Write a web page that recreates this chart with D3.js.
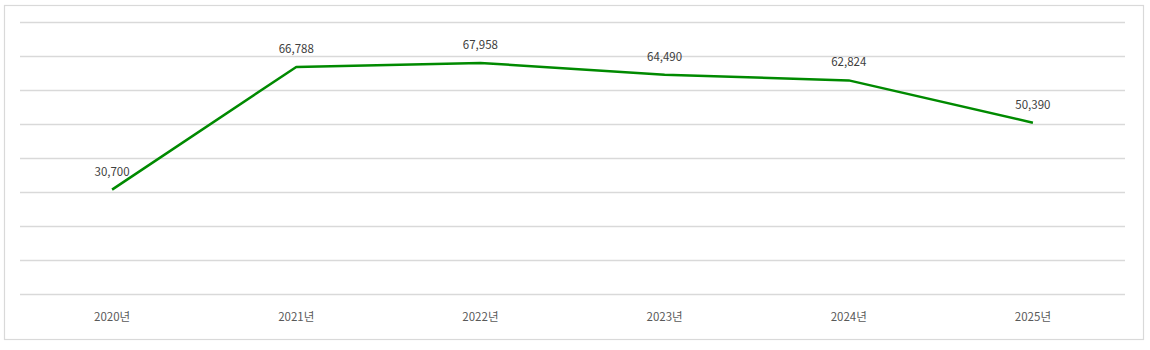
<!DOCTYPE html>
<html>
<head>
<meta charset="utf-8">
<script src="https://cdn.jsdelivr.net/npm/d3@7"></script>
<style>
  html, body { margin: 0; padding: 0; background: #fff; }
  svg { display: block; }
  text { font-family: "Noto Sans CJK KR", "Noto Sans", sans-serif; }
</style>
</head>
<body>
<svg id="chart" width="1150" height="350"></svg>
<script>
// Yearly totals
const years = ["2020년", "2021년", "2022년", "2023년", "2024년", "2025년"];
const values = [30700, 66788, 67958, 64490, 62824, 50390];
const yTicks = [0, 10000, 20000, 30000, 40000, 50000, 60000, 70000, 80000];

const svg = d3.select("#chart");
const plot = { left: 20, right: 1125, top: 22, bottom: 294 };

// chart frame
svg.append("rect")
  .attr("x", 4.5).attr("y", 5.5)
  .attr("width", 1139).attr("height", 334)
  .attr("fill", "#fff")
  .attr("stroke", "#d9d9d9")
  .attr("stroke-width", 1.2);

const x = d3.scaleBand()
  .domain(years)
  .range([plot.left, plot.right]);

const y = d3.scaleLinear()
  .domain([0, 80000])
  .range([plot.bottom, plot.top]);

// horizontal gridlines
svg.append("g")
  .selectAll("line")
  .data(yTicks)
  .join("line")
  .attr("x1", plot.left).attr("x2", plot.right)
  .attr("y1", d => Math.round(y(d)) + 0.5)
  .attr("y2", d => Math.round(y(d)) + 0.5)
  .attr("stroke", "#d9d9d9")
  .attr("stroke-width", 1.3);

// category axis labels
const xAxis = d3.axisBottom(x).tickSize(0).tickPadding(0);
const gx = svg.append("g")
  .attr("transform", `translate(0, ${plot.bottom + 19})`)
  .call(xAxis);
gx.select(".domain").remove();
gx.selectAll("text")
  .attr("fill", "#595959")
  .attr("font-size", 11.5)
  .attr("dy", "0.71em");

// data line
const line = d3.line()
  .x((d, i) => x(years[i]) + x.bandwidth() / 2)
  .y(d => y(d));

svg.append("path")
  .datum(values)
  .attr("fill", "none")
  .attr("stroke", "#008a00")
  .attr("stroke-width", 2.5)
  .attr("stroke-linejoin", "round")
  .attr("d", line);

// value labels
svg.append("g")
  .selectAll("text")
  .data(values)
  .join("text")
  .attr("x", (d, i) => x(years[i]) + x.bandwidth() / 2)
  .attr("y", d => y(d) - 14)
  .attr("text-anchor", "middle")
  .attr("fill", "#404040")
  .attr("font-size", 11.5)
  .text(d => d3.format(",")(d));
</script>
</body>
</html>
